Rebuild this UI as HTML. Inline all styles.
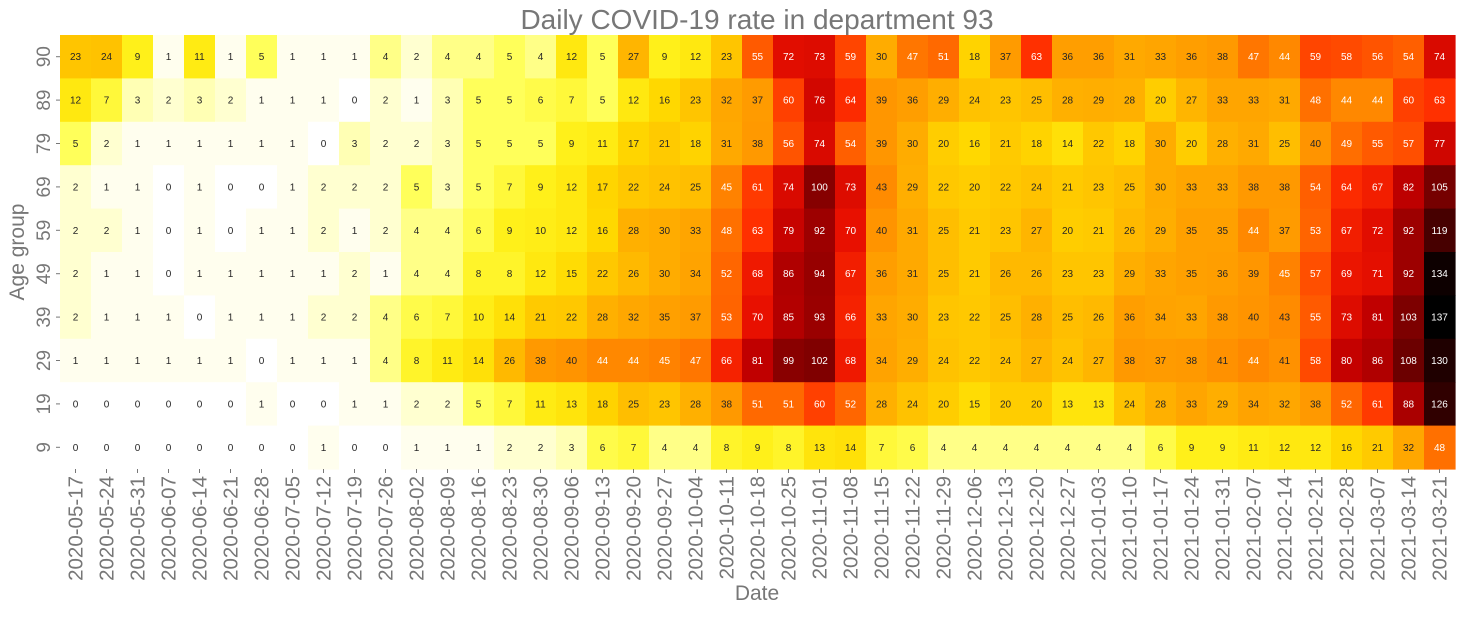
<!DOCTYPE html>
<html><head><meta charset="utf-8"><style>
body{margin:0;background:#fff;}
svg text{font-family:"Liberation Sans",sans-serif;}
</style></head><body>
<svg id="chart" width="1462" height="612" xmlns="http://www.w3.org/2000/svg">
<text x="757" y="29" text-anchor="middle" font-size="28" fill="#777">Daily COVID-19 rate in department 93</text>
<text transform="translate(24,252) rotate(-90)" text-anchor="middle" font-size="21" fill="#777">Age group</text>
<text x="757" y="600" text-anchor="middle" font-size="21" fill="#777">Date</text>
<g id="cells"></g>
<g id="ticks"></g>
</svg>
<script>
const ageGroups=["90","89","79","69","59","49","39","29","19","9"];
const dates=["2020-05-17","2020-05-24","2020-05-31","2020-06-07","2020-06-14","2020-06-21","2020-06-28","2020-07-05","2020-07-12","2020-07-19","2020-07-26","2020-08-02","2020-08-09","2020-08-16","2020-08-23","2020-08-30","2020-09-06","2020-09-13","2020-09-20","2020-09-27","2020-10-04","2020-10-11","2020-10-18","2020-10-25","2020-11-01","2020-11-08","2020-11-15","2020-11-22","2020-11-29","2020-12-06","2020-12-13","2020-12-20","2020-12-27","2021-01-03","2021-01-10","2021-01-17","2021-01-24","2021-01-31","2021-02-07","2021-02-14","2021-02-21","2021-02-28","2021-03-07","2021-03-14","2021-03-21"];
const row90=[23,24,9,1,11,1,5,1,1,1,4,2,4,4,5,4,12,5,27,9,12,23,55,72,73,59,30,47,51,18,37,63,36,36,31,33,36,38,47,44,59,58,56,54,74];
const row89=[12,7,3,2,3,2,1,1,1,0,2,1,3,5,5,6,7,5,12,16,23,32,37,60,76,64,39,36,29,24,23,25,28,29,28,20,27,33,33,31,48,44,44,60,63];
const row79=[5,2,1,1,1,1,1,1,0,3,2,2,3,5,5,5,9,11,17,21,18,31,38,56,74,54,39,30,20,16,21,18,14,22,18,30,20,28,31,25,40,49,55,57,77];
const row69=[2,1,1,0,1,0,0,1,2,2,2,5,3,5,7,9,12,17,22,24,25,45,61,74,100,73,43,29,22,20,22,24,21,23,25,30,33,33,38,38,54,64,67,82,105];
const row59=[2,2,1,0,1,0,1,1,2,1,2,4,4,6,9,10,12,16,28,30,33,48,63,79,92,70,40,31,25,21,23,27,20,21,26,29,35,35,44,37,53,67,72,92,119];
const row49=[2,1,1,0,1,1,1,1,1,2,1,4,4,8,8,12,15,22,26,30,34,52,68,86,94,67,36,31,25,21,26,26,23,23,29,33,35,36,39,45,57,69,71,92,134];
const row39=[2,1,1,1,0,1,1,1,2,2,4,6,7,10,14,21,22,28,32,35,37,53,70,85,93,66,33,30,23,22,25,28,25,26,36,34,33,38,40,43,55,73,81,103,137];
const row29=[1,1,1,1,1,1,0,1,1,1,4,8,11,14,26,38,40,44,44,45,47,66,81,99,102,68,34,29,24,22,24,27,24,27,38,37,38,41,44,41,58,80,86,108,130];
const row19=[0,0,0,0,0,0,1,0,0,1,1,2,2,5,7,11,13,18,25,23,28,38,51,51,60,52,28,24,20,15,20,20,13,13,24,28,33,29,34,32,38,52,61,88,126];
const row9=[0,0,0,0,0,0,0,0,1,0,0,1,1,1,2,2,3,6,7,4,4,8,9,8,13,14,7,6,4,4,4,4,4,4,4,6,9,9,11,12,12,16,21,32,48];
const rows=[row90,row89,row79,row69,row59,row49,row39,row29,row19,row9];

const X0=60,X1=1455,Y0=35,Y1=469;
const cw=(X1-X0)/dates.length, rh=(Y1-Y0)/ageGroups.length;
const xPos=i=>X0+i*cw, yPos=j=>Y0+j*rh;
const stops=[[0,255,255,255],[1,255,254,238],[2,255,255,208],[3,255,255,180],[5,255,255,90],[9,255,240,26],[12,255,232,16],[16,255,216,0],[24,255,194,0],[28,255,176,0],[33,255,165,0],[40,255,148,0],[44,255,136,0],[48,255,112,0],[53,255,100,0],[63,255,48,0],[70,232,16,0],[81,192,0,0],[86,176,0,0],[93,154,0,0],[102,128,0,0],[126,48,0,0],[137,0,0,0]];
function color(v){
  for(let k=1;k<stops.length;k++){
    if(v<=stops[k][0]){const a=stops[k-1],b=stops[k];const t=(v-a[0])/(b[0]-a[0]);
      return `rgb(${[1,2,3].map(c=>Math.round(a[c]+(b[c]-a[c])*t)).join(',')})`;}
  }
  return 'rgb(0,0,0)';
}
const NS="http://www.w3.org/2000/svg";
const cells=document.getElementById('cells'), ticks=document.getElementById('ticks');
rows.forEach((r,j)=>{r.forEach((v,i)=>{
  const rect=document.createElementNS(NS,'rect');
  
  
  rect.setAttribute('x',xPos(i));rect.setAttribute('y',yPos(j));
  rect.setAttribute('width',cw+0.6);rect.setAttribute('height',rh+0.6);
  rect.setAttribute('fill',color(v));cells.appendChild(rect);
  const t=document.createElementNS(NS,'text');
  
  
  t.setAttribute('x',xPos(i)+cw/2);t.setAttribute('y',yPos(j)+rh/2+3.5);
  t.setAttribute('text-anchor','middle');t.setAttribute('font-size','10');
  t.setAttribute('fill',v>=44?'#fff':'#262626');t.textContent=v;cells.appendChild(t);
});});
ageGroups.forEach((g,j)=>{
  const y=yPos(j)+rh/2;
  const l=document.createElementNS(NS,'line');
  
  
  l.setAttribute('x1',56);l.setAttribute('x2',60);l.setAttribute('y1',y);l.setAttribute('y2',y);l.setAttribute('stroke','#777');ticks.appendChild(l);
  const t=document.createElementNS(NS,'text');
  
  
  t.setAttribute('transform',`translate(50,${y}) rotate(-90)`);t.setAttribute('text-anchor','middle');
  t.setAttribute('font-size','19');t.setAttribute('fill','#777');t.textContent=g;ticks.appendChild(t);
});
dates.forEach((d,i)=>{
  const x=xPos(i)+cw/2;
  const l=document.createElementNS(NS,'line');
  
  
  l.setAttribute('x1',x);l.setAttribute('x2',x);l.setAttribute('y1',469);l.setAttribute('y2',473);l.setAttribute('stroke','#777');ticks.appendChild(l);
  const t=document.createElementNS(NS,'text');
  
  
  t.setAttribute('transform',`translate(${x+7},476) rotate(-90)`);t.setAttribute('text-anchor','end');
  t.setAttribute('font-size','20.5');t.setAttribute('fill','#777');t.textContent=d;ticks.appendChild(t);
});
</script>
</body></html>
